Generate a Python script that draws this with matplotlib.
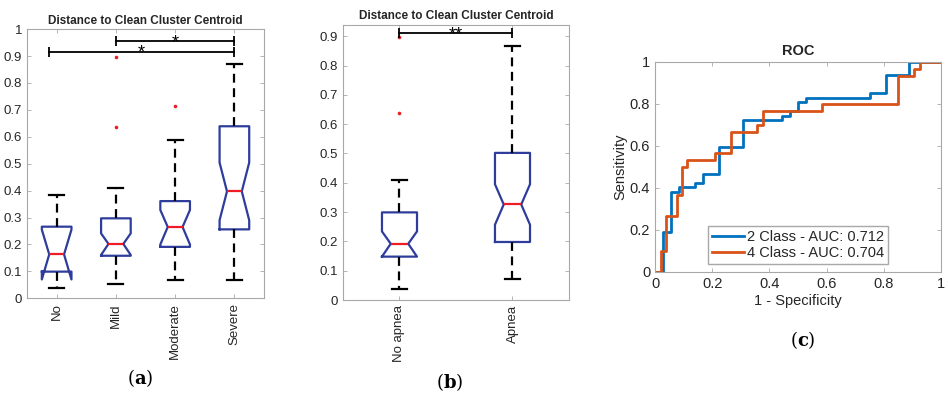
import numpy as np
import matplotlib
matplotlib.use("Agg")
import matplotlib.pyplot as plt

plt.rcParams["font.family"] = ["Liberation Sans", "DejaVu Sans"]
plt.rcParams["mathtext.fontset"] = "dejavuserif"

# ---------------------------------------------------------------------
# Data
# ---------------------------------------------------------------------
# (a) four severity groups
groups_a = ["No", "Mild", "Moderate", "Severe"]
whislo_a = [0.037, 0.052, 0.068, 0.068]
q1_a = [0.099, 0.158, 0.191, 0.256]
cilo_a = [0.070, 0.161, 0.200, 0.290]
med_a = [0.163, 0.202, 0.265, 0.397]
cihi_a = [0.255, 0.241, 0.328, 0.504]
q3_a = [0.266, 0.297, 0.361, 0.639]
whishi_a = [0.384, 0.408, 0.588, 0.869]
fliers_a = [[], [0.895, 0.635], [0.713], []]

# (b) two groups
groups_b = ["No apnea", "Apnea"]
whislo_b = [0.038, 0.073]
q1_b = [0.148, 0.198]
cilo_b = [0.148, 0.257]
med_b = [0.192, 0.326]
cihi_b = [0.234, 0.395]
q3_b = [0.299, 0.502]
whishi_b = [0.411, 0.868]
fliers_b = [[0.897, 0.637], []]

# significance brackets: (start, end, y, label)
sig_a = [(2, 4, 0.955, "*"), (0.87, 4, 0.915, "*")]
sig_b = [(1, 2, 0.91, "**")]

# (c) ROC curves (step corners)
fpr_2 = [0, 0.028, 0.056, 0.083, 0.139, 0.167, 0.222, 0.306, 0.444, 0.472,
         0.500, 0.528, 0.750, 0.806, 0.889, 1.0]
tpr_2 = [0, 0.191, 0.383, 0.404, 0.426, 0.468, 0.596, 0.723, 0.745, 0.766,
         0.809, 0.830, 0.851, 0.936, 1.0, 1.0]
fpr_4 = [0, 0.019, 0.038, 0.075, 0.094, 0.113, 0.208, 0.264, 0.358, 0.377,
         0.585, 0.849, 0.906, 0.925, 1.0]
tpr_4 = [0, 0.100, 0.267, 0.367, 0.500, 0.533, 0.567, 0.667, 0.700, 0.767,
         0.800, 0.933, 0.967, 1.0, 1.0]
auc_2 = 0.712
auc_4 = 0.704

BOX_BLUE = "#2E3D9C"
SPINE = "#A8A8A8"
TXT = "#262626"


def stats_list(lo, q1, cl, md, ch, q3, hi, fl):
    out = []
    for i in range(len(md)):
        out.append(dict(whislo=lo[i], q1=q1[i], cilo=cl[i], med=md[i],
                        cihi=ch[i], q3=q3[i], whishi=hi[i], fliers=fl[i]))
    return out


def style_axes(ax):
    for s in ax.spines.values():
        s.set_color(SPINE)
        s.set_linewidth(0.8)
    ax.tick_params(direction="in", top=True, right=True, color=SPINE,
                   labelcolor=TXT, length=3, width=0.6, labelsize=9.5)


def draw_box(ax, stats, width, capw):
    ax.bxp(stats, positions=range(1, len(stats) + 1), widths=width,
           capwidths=capw, shownotches=True,
           boxprops=dict(color=BOX_BLUE, lw=1.6),
           medianprops=dict(color="#EE1C25", lw=1.6),
           whiskerprops=dict(color="black", lw=1.6, linestyle=(0, (4, 2.5))),
           capprops=dict(color="black", lw=1.6),
           flierprops=dict(marker="o", markersize=2.6, markerfacecolor="#EE1C25",
                           markeredgecolor="none"))


def draw_sig(ax, sig):
    for x1, x2, y, lab in sig:
        ax.plot([x1, x2], [y, y], color="black", lw=1.3)
        ax.plot([x1, x2], [y, y], linestyle="none", marker="|", markersize=7,
                markeredgewidth=1.3, color="black")
        ax.text((x1 + x2) / 2, y - 0.022, lab, ha="center", va="baseline",
                fontsize=13, color="black")


fig = plt.figure(figsize=(9.48, 3.93), dpi=100)

# ---------------------------------------------------------------------
# (a)
# ---------------------------------------------------------------------
ax1 = fig.add_axes([0.0285, 0.241, 0.25, 0.685])
draw_box(ax1, stats_list(whislo_a, q1_a, cilo_a, med_a, cihi_a, q3_a,
                         whishi_a, fliers_a), 0.5, 0.25)
draw_sig(ax1, sig_a)
ax1.set_xlim(0.5, 4.5)
ax1.set_ylim(0, 1)
ax1.set_yticks(np.arange(0, 1.01, 0.1))
ax1.set_yticklabels(["0", "0.1", "0.2", "0.3", "0.4", "0.5", "0.6", "0.7",
                     "0.8", "0.9", "1"])
ax1.set_xticks(range(1, 5))
ax1.set_xticklabels(groups_a, rotation=90)
ax1.set_title("Distance to Clean Cluster Centroid", fontsize=8.5,
              fontweight="bold", color=TXT, pad=4)
style_axes(ax1)

# ---------------------------------------------------------------------
# (b)
# ---------------------------------------------------------------------
ax2 = fig.add_axes([0.3618, 0.2366, 0.2384, 0.701])
draw_box(ax2, stats_list(whislo_b, q1_b, cilo_b, med_b, cihi_b, q3_b,
                         whishi_b, fliers_b), 0.31, 0.13)
draw_sig(ax2, sig_b)
ax2.set_xlim(0.5, 2.5)
ax2.set_ylim(0, 0.94)
ax2.set_yticks(np.arange(0, 0.91, 0.1))
ax2.set_yticklabels(["0", "0.1", "0.2", "0.3", "0.4", "0.5", "0.6", "0.7",
                     "0.8", "0.9"])
ax2.set_xticks([1, 2])
ax2.set_xticklabels(groups_b, rotation=90)
ax2.set_title("Distance to Clean Cluster Centroid", fontsize=8.5,
              fontweight="bold", color=TXT, pad=4)
style_axes(ax2)

# ---------------------------------------------------------------------
# (c) ROC
# ---------------------------------------------------------------------
ax3 = fig.add_axes([0.691, 0.3079, 0.3017, 0.5344])
ax3.step(fpr_2, tpr_2, where="post", color="#0072BD", lw=2,
         label="2 Class - AUC: %.3f" % auc_2)
ax3.step(fpr_4, tpr_4, where="post", color="#D95319", lw=2,
         label="4 Class - AUC: %.3f" % auc_4)
ax3.set_xlim(0, 1)
ax3.set_ylim(0, 1)
ax3.set_xticks([0, 0.2, 0.4, 0.6, 0.8, 1])
ax3.set_xticklabels(["0", "0.2", "0.4", "0.6", "0.8", "1"])
ax3.set_yticks([0, 0.2, 0.4, 0.6, 0.8, 1])
ax3.set_yticklabels(["0", "0.2", "0.4", "0.6", "0.8", "1"])
ax3.set_title("ROC", fontsize=10.5, fontweight="bold", color=TXT, pad=5)
ax3.set_xlabel("1 - Specificity", fontsize=10.5, color=TXT, labelpad=2)
ax3.set_ylabel("Sensitivity", fontsize=10.5, color=TXT, labelpad=2)
style_axes(ax3)
ax3.tick_params(labelsize=10.5)
leg = ax3.legend(loc="lower center", bbox_to_anchor=(0.5, 0.04), fontsize=10.5,
                 fancybox=False, framealpha=1, edgecolor=SPINE,
                 handlelength=2.2, handletextpad=0.2, borderpad=0.25,
                 labelspacing=0.15, borderaxespad=0)
for t in leg.get_texts():
    t.set_color(TXT)

# panel labels
fig.text(140 / 948, 1 - 378 / 393, r"$(\mathbf{a})$", ha="center", va="center",
         fontsize=13)
fig.text(450 / 948, 1 - 382 / 393, r"$(\mathbf{b})$", ha="center", va="center",
         fontsize=13)
fig.text(803 / 948, 1 - 340 / 393, r"$(\mathbf{c})$", ha="center", va="center",
         fontsize=13)

fig.savefig("out.png", dpi=100)
